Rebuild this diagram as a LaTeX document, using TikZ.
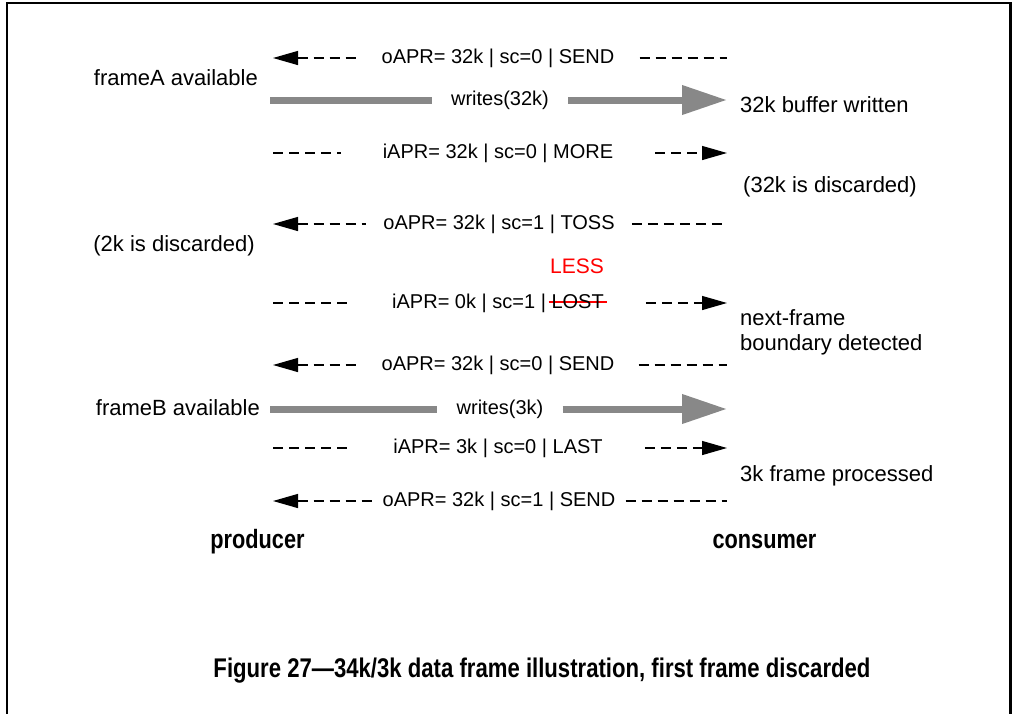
\documentclass[tikz,border=0pt]{standalone}
\usepackage{fontspec}
\setmainfont{Liberation Sans}
\newfontfamily\narrowfont[FakeStretch=0.82]{Liberation Sans}
\usetikzlibrary{arrows.meta}
\definecolor{bargray}{HTML}{888888}
\newlength\strkw
% word struck through with a red rule
\newcommand\redstrike[1]{\settowidth\strkw{#1}\rlap{\hspace{-3pt}{\color{red}\rule[0.3em]{\dimexpr\strkw+6pt\relax}{1.7pt}}}#1}

\begin{document}
\begin{tikzpicture}[x=1pt,y=-1pt,
  msg/.style={font=\fontsize{20}{24}\selectfont, text height=15pt, text depth=4pt, inner ysep=0pt},
  side/.style={font=\fontsize{22}{25}\selectfont, inner sep=0pt},
  head/.style={font=\narrowfont\bfseries\fontsize{26.5}{30}\selectfont, inner sep=0pt, anchor=base},
  dsh/.style={line width=1.3pt, dash pattern=on 10pt off 6pt},
  ltip/.style={{Triangle[length=25pt,width=14pt]}-},
  rtip/.style={-{Triangle[length=25pt,width=14pt]}},
  bar/.style={line width=7pt, draw=bargray},
  bartip/.style={-{Triangle[length=45pt,width=28pt]}, fill=bargray}
]
\useasboundingbox (0,0) rectangle (1013,713);
% outer frame, open at the bottom
\draw[line width=2.5pt] (7,716) -- (7,3) -- (1010.5,3) -- (1010.5,716);

% end points on the producer (L) and consumer (R) sides
\foreach \n/\y in {1/58,2/100,3/153,4/224,5/303,6/365,7/409,8/448,9/501} {
  \coordinate (L\n) at (273,\y);
  \coordinate (R\n) at (727,\y);
}

% row 1: oAPR back to producer
\node[msg, inner xsep=25pt] (t1) at (498,58) {oAPR= 32k | sc=0 | SEND};
\draw[dsh,ltip] (L1) -- (t1.west);
\draw[dsh] (t1.east) -- (R1);

% row 2: data write
\node[msg, inner xsep=19pt] (t2) at (500,100) {writes(32k)};
\draw[bar] ([xshift=-3pt]L2) -- (t2.west);
\draw[bar,bartip] (t2.east) -- (R2);

% row 3: iAPR to consumer
\node[msg, inner xsep=42pt] (t3) at (498,153) {iAPR= 32k | sc=0 | MORE};
\draw[dsh] (L3) -- (t3.west);
\draw[dsh,rtip] (t3.east) -- (R3);

% row 4
\node[msg, inner xsep=17pt] (t4) at (499,224) {oAPR= 32k | sc=1 | TOSS};
\draw[dsh,ltip] (L4) -- (t4.west);
\draw[dsh] (t4.east) -- (R4);

% row 5 with corrected status word
\node[msg, inner xsep=42pt] (t5) at (498,303) {iAPR= 0k | sc=1 | \redstrike{LOST}};
\draw[dsh] (L5) -- (t5.west);
\draw[dsh,rtip] (t5.east) -- (R5);
\node[font=\fontsize{21}{24}\selectfont, text=red, inner sep=0pt] (less) at (577,266) {LESS};

% row 6
\node[msg, inner xsep=24pt] (t6) at (498,365) {oAPR= 32k | sc=0 | SEND};
\draw[dsh,ltip] (L6) -- (t6.west);
\draw[dsh] (t6.east) -- (R6);

% row 7: data write
\node[msg, inner xsep=19pt] (t7) at (500,409) {writes(3k)};
\draw[bar] ([xshift=-3pt]L7) -- (t7.west);
\draw[bar,bartip] (t7.east) -- (R7);

% row 8
\node[msg, inner xsep=42pt] (t8) at (498,448) {iAPR= 3k | sc=0 | LAST};
\draw[dsh] (L8) -- (t8.west);
\draw[dsh,rtip] (t8.east) -- (R8);

% row 9
\node[msg, inner xsep=10pt] (t9) at (499,501) {oAPR= 32k | sc=1 | SEND};
\draw[dsh,ltip] (L9) -- (t9.west);
\draw[dsh] (t9.east) -- (R9);

% producer side notes
\node[side, anchor=base east] (fa) at (258,85) {frameA available};
\node[side, anchor=base east] (d2) at (255,251) {(2k is discarded)};
\node[side, anchor=base east] (fb) at (260,415) {frameB available};

% consumer side notes
\node[side, anchor=base west] (bw) at (740,112) {32k buffer written};
\node[side, anchor=base west] (d32) at (743,192) {(32k is discarded)};
\node[side, anchor=base west] (nf) at (740,325) {next-frame};
\node[side, anchor=base west] (bd) at (740,350) {boundary detected};
\node[side, anchor=base west] (fp) at (740,481) {3k frame processed};

% column titles
\node[head] (prod) at (257.5,548) {producer};
\node[head] (cons) at (764.5,548) {consumer};

% caption
\node[font=\narrowfont\bfseries\fontsize{27}{30}\selectfont, inner sep=0pt] (cap) at (542,671)
  {Figure 27—34k/3k data frame illustration, first frame discarded};
\end{tikzpicture}
\end{document}
